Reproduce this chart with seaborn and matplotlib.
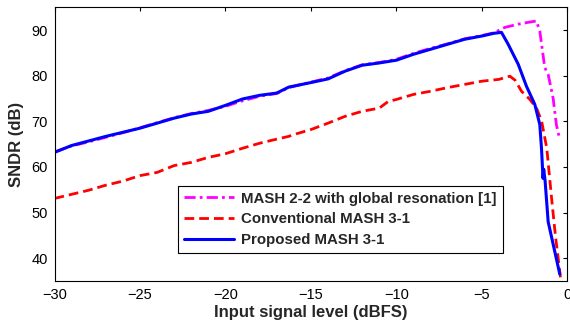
import matplotlib
matplotlib.use("Agg")
import matplotlib.pyplot as plt
import seaborn as sns
import pandas as pd

sns.set_theme(style="white")
plt.rcParams['font.family'] = ['Liberation Sans', 'DejaVu Sans']

# Proposed MASH 3-1 (blue)
prop_x = [-30, -29, -28, -27, -26, -25, -24, -23, -22, -21, -20, -19, -18, -17, -16.3,
          -15, -14, -13, -12, -11, -10, -9, -8, -7, -6, -5, -4.3, -3.85, -3.46, -2.87,
          -2.39, -1.9, -1.61, -1.51, -1.42, -1.38, -1.3, -1.12, -0.44]
prop_y = [63.2, 64.7, 65.7, 66.7, 67.6, 68.5, 69.6, 70.7, 71.6, 72.2, 73.5, 74.9, 75.7, 76.2, 77.5,
          78.5, 79.3, 81.0, 82.3, 82.8, 83.4, 84.7, 85.8, 86.9, 88.0, 88.7, 89.3, 89.5, 86.9, 82.5,
          77.7, 73.7, 69.3, 64.1, 57.5, 59.5, 57.0, 48.0, 36.5]

# MASH 2-2 with global resonation [1] (magenta)
mash22_x = [-30, -29, -28, -27, -26, -25, -24, -23, -22, -21, -20, -19, -18, -17, -16.3,
            -15, -14, -13, -12, -11, -10, -9, -8, -7, -6, -5, -4.3, -3.65, -2.87, -2.29,
            -1.81, -1.61, -1.32, -1.12, -0.83, -0.64, -0.44]
mash22_y = [63.3, 64.6, 65.5, 66.5, 67.5, 68.6, 69.7, 70.8, 71.7, 72.4, 73.3, 74.5, 75.5, 76.1, 77.4,
            78.6, 79.5, 81.1, 82.4, 82.9, 83.6, 84.9, 86.0, 87.0, 88.1, 88.8, 89.4, 90.6, 91.3, 91.7,
            92.0, 89.8, 81.8, 80.3, 75.1, 69.3, 66.0]

# Conventional MASH 3-1 (red)
conv_x = [-30, -29, -28, -27, -26, -25, -24, -23, -22, -21, -20, -19, -18, -17, -16.3, -16,
          -15, -14, -13, -12, -11, -10.5, -10, -9, -8, -7, -6, -5, -4, -3.36, -3.05, -2.68,
          -2.19, -1.8, -1.5, -1.2, -0.9, -0.7, -0.4]
conv_y = [53.1, 54.0, 54.9, 56.0, 56.9, 58.1, 58.8, 60.3, 61.0, 62.1, 62.9, 64.1, 65.2, 66.1, 66.7, 67.1,
          68.2, 69.6, 71.1, 72.2, 72.9, 74.3, 74.8, 75.9, 76.6, 77.4, 78.1, 78.8, 79.2, 79.9, 79.0, 76.6,
          74.8, 72.9, 70.0, 64.1, 52.4, 45.1, 35.8]

labels = ["MASH 2-2 with global resonation [1]", "Conventional MASH 3-1", "Proposed MASH 3-1"]

fig = plt.figure(figsize=(5.70, 3.26), dpi=100)
ax = fig.add_axes([54.5 / 570, (326 - 281) / 326, (567.3 - 54.5) / 570, (281 - 7.3) / 326])

df_m = pd.DataFrame({"x": mash22_x, "y": mash22_y})
df_c = pd.DataFrame({"x": conv_x, "y": conv_y})
df_p = pd.DataFrame({"x": prop_x, "y": prop_y})

sns.lineplot(data=df_m, x="x", y="y", ax=ax, color="#ff00ff", lw=2.0, label=labels[0], sort=False)
sns.lineplot(data=df_c, x="x", y="y", ax=ax, color="#ff0000", lw=2.0, label=labels[1], sort=False)
sns.lineplot(data=df_p, x="x", y="y", ax=ax, color="#0000ff", lw=2.2, label=labels[2], sort=False)
ax.lines[0].set_linestyle((0, (4, 1.5, 1, 1.5)))
ax.lines[1].set_linestyle((0, (3.5, 1.8)))

ax.set_xlim(-30, 0)
ax.set_ylim(35, 95)
ax.set_xticks([-30, -25, -20, -15, -10, -5, 0])
ax.set_yticks([40, 50, 60, 70, 80, 90])
ax.tick_params(direction="in", top=True, right=True, length=3, width=0.8,
               labelsize=10.5, colors="black", pad=5)
for s in ax.spines.values():
    s.set_color("black")
    s.set_linewidth(0.8)
ax.set_xlabel("Input signal level (dBFS)", fontsize=12, fontweight="bold", labelpad=2)
ax.set_ylabel("SNDR (dB)", fontsize=12, fontweight="bold", labelpad=5)

leg = ax.legend(loc="lower left", bbox_to_anchor=(0.241, 0.102), borderaxespad=0,
                prop={"weight": "bold", "size": 10.8}, frameon=True, fancybox=False,
                edgecolor="black", handlelength=3.3, borderpad=0.4, labelspacing=0.45,
                handletextpad=0.5)
leg.get_frame().set_linewidth(0.8)
leg.get_frame().set_alpha(1)

fig.savefig("out.png", dpi=100)
